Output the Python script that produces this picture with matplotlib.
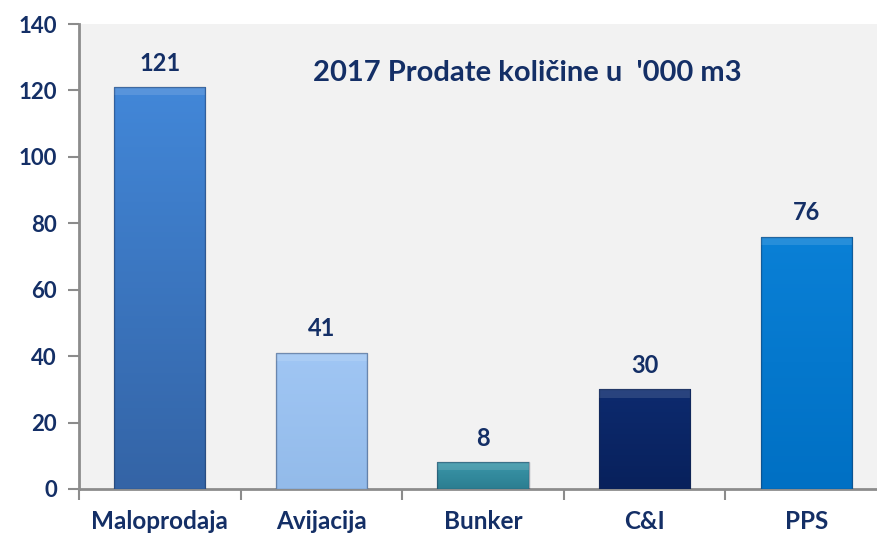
import numpy as np
import matplotlib.pyplot as plt
from matplotlib.colors import LinearSegmentedColormap

categories = ['Maloprodaja', 'Avijacija', 'Bunker', 'C&I', 'PPS']
values = [121, 41, 8, 30, 76]
colors_top = ['#4287d8', '#a0c6f4', '#3a97aa', '#0d2a6e', '#0a80d6']
colors_bot = ['#3464a6', '#93bbea', '#2c7d90', '#08215c', '#0070c4']
navy = '#142f66'

plt.rcParams['font.family'] = ['Lato', 'DejaVu Sans']

fig = plt.figure(figsize=(8.78, 5.36), dpi=100)
ax = fig.add_axes([0.09, 0.0877, 0.9203, 0.8675])
ax.set_facecolor('#f2f2f2')

x = np.arange(len(categories))
bars = ax.bar(x, values, width=0.565, color=colors_bot, edgecolor='none', zorder=2)

# gradient fill + bevel look
grad = np.linspace(1, 0, 100).reshape(-1, 1)
for b, ct, cb in zip(bars, colors_top, colors_bot):
    x0, y0 = b.get_x(), b.get_y()
    w, h = b.get_width(), b.get_height()
    cmap = LinearSegmentedColormap.from_list('g', [cb, ct])
    im = ax.imshow(grad, extent=[x0, x0 + w, y0, y0 + h], aspect='auto',
                   cmap=cmap, zorder=3, interpolation='bicubic')
    im.set_clip_path(b)
    bev = min(2.5, h * 0.3)
    ax.fill_between([x0, x0 + w], y0 + h - bev, y0 + h, color='white', alpha=0.12,
                    zorder=4, linewidth=0)
    ax.bar(b.get_x() + w / 2, h, width=w, fill=False, edgecolor='#1a2a4a',
           linewidth=1.0, alpha=0.4, zorder=5)

for xi, v in zip(x, values):
    ax.annotate(str(v), (xi, v), xytext=(0, 9), textcoords='offset points',
                ha='center', va='bottom', fontsize=17, fontweight='bold', color=navy)

ax.set_xlim(-0.5, len(categories) - 0.5)
ax.set_ylim(0, 140)
ax.set_yticks(range(0, 141, 20))
ax.set_xticks(x)
ax.set_xticklabels(categories)
ax.set_xticks(np.arange(-0.5, len(categories), 1), minor=True)

for s in ['top', 'right']:
    ax.spines[s].set_visible(False)
for s in ['left', 'bottom']:
    ax.spines[s].set_color('#8c8c8c')
    ax.spines[s].set_linewidth(2)

ax.tick_params(axis='y', length=8, width=1.5, color='#8c8c8c', pad=8,
               labelsize=16, labelcolor=navy)
ax.tick_params(axis='x', which='major', length=0, pad=15, labelsize=17.5, labelcolor=navy)
ax.tick_params(axis='x', which='minor', length=8, width=1.5, color='#8c8c8c')
for lbl in ax.get_xticklabels() + ax.get_yticklabels():
    lbl.set_fontweight('bold')

ax.text(0.555, 0.895, "2017 Prodate količine u  '000 m3", transform=ax.transAxes,
        ha='center', va='center', fontsize=21, fontweight='bold', color=navy)

fig.savefig('out.png', dpi=100)
